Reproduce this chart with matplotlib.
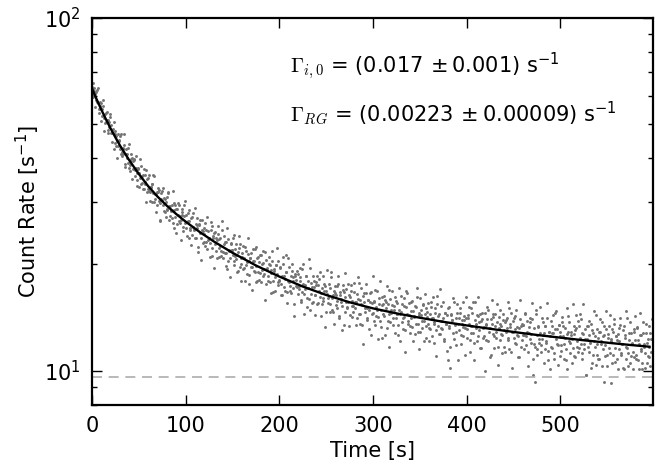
"""
Count rate decay with a two-component fit, log scale.
"""

import numpy as np
import matplotlib
matplotlib.use("Agg")
import matplotlib.pyplot as plt
from matplotlib.ticker import LogLocator, NullFormatter

# measured count rate, readings on whole seconds starting at t = 0 s
rate = [
    63.7, 59.6, 63.2, 60.7, 58.6, 62.3, 57.4, 55.0, 57.8, 55.6, 51.1, 55.2, 56.1, 52.1, 50.4, 53.6, 51.3, 47.0, 50.7, 53.2,
    47.1, 47.5, 48.5, 42.6, 46.8, 47.9, 43.4, 44.7, 43.4, 44.7, 46.2, 41.0, 41.6, 42.6, 43.6, 38.6, 41.0, 41.2, 38.8, 43.9,
    39.2, 36.8, 39.9, 40.0, 37.3, 39.7, 35.7, 37.4, 33.4, 37.4, 36.2, 35.1, 38.0, 34.0, 35.8, 32.7, 35.8, 33.9, 37.0, 32.1,
    35.2, 32.3, 30.2, 33.2, 33.9, 31.9, 35.5, 30.6, 31.6, 29.5, 32.1, 32.5, 29.8, 26.8, 30.7, 32.2, 29.5, 30.8, 28.1, 30.1,
    28.5, 31.9, 29.2, 27.5, 28.4, 29.5, 26.2, 29.9, 28.5, 27.3, 24.6, 28.7, 27.7, 29.5, 26.2, 26.7, 28.2, 24.9, 27.4, 30.3,
    25.3, 26.3, 28.0, 23.8, 26.5, 25.3, 27.1, 24.3, 27.9, 25.2, 23.7, 26.0, 25.3, 21.7, 26.0, 26.7, 23.8, 25.0, 23.0, 25.3,
    24.4, 26.2, 23.1, 22.1, 24.9, 23.7, 23.0, 26.4, 21.1, 24.0, 24.5, 22.8, 21.9, 23.4, 24.4, 21.0, 23.6, 22.5, 21.9, 25.0,
    20.9, 22.8, 23.1, 21.6, 19.4, 23.6, 21.9, 20.9, 23.0, 22.0, 21.3, 24.2, 19.9, 22.1, 20.7, 21.3, 19.1, 22.2, 22.9, 20.0,
    21.5, 19.4, 20.8, 22.4, 19.9, 18.8, 21.4, 20.4, 17.6, 20.9, 21.5, 19.7, 20.5, 19.1, 22.1, 19.8, 17.9, 21.0, 20.3, 18.9,
    21.2, 19.3, 18.5, 20.2, 19.4, 21.7, 17.6, 19.6, 18.6, 20.0, 17.8, 19.3, 20.4, 16.7, 19.4, 18.4, 19.9, 18.8, 17.8, 20.4,
    18.0, 19.5, 16.4, 18.6, 20.0, 17.3, 18.2, 19.0, 16.7, 20.8, 17.8, 16.8, 18.5, 19.2, 17.2, 17.9, 15.4, 18.6, 18.1, 17.3,
    18.8, 17.4, 18.0, 15.9, 19.4, 17.6, 16.5, 17.0, 18.6, 15.1, 17.9, 17.1, 16.0, 19.5, 16.5, 17.3, 15.6, 17.9, 16.4, 17.5,
    15.4, 17.5, 18.2, 16.2, 16.6, 15.4, 18.6, 15.8, 16.8, 17.4, 14.7, 16.5, 16.1, 17.6, 15.4, 19.0, 16.1, 14.7, 16.8, 16.6,
    16.4, 15.0, 15.8, 17.6, 14.3, 16.7, 16.0, 15.2, 16.9, 13.5, 16.2, 17.0, 15.0, 15.7, 16.4, 14.4, 17.5, 15.2, 15.8, 14.7,
    16.7, 15.0, 15.7, 14.1, 16.0, 17.7, 14.5, 15.4, 13.5, 16.3, 15.6, 15.0, 16.6, 14.1, 15.0, 15.9, 13.1, 15.6, 16.7, 14.5,
    14.6, 15.8, 13.5, 15.1, 16.8, 14.2, 15.4, 13.8, 14.9, 16.2, 12.4, 15.4, 14.3, 15.9, 15.0, 13.2, 15.4, 16.9, 13.7, 14.6,
    15.3, 13.5, 14.9, 16.2, 14.1, 14.5, 15.5, 12.6, 14.9, 14.5, 16.3, 13.7, 14.1, 15.2, 13.0, 16.8, 14.5, 13.8, 15.5, 13.4,
    14.1, 15.6, 13.3, 14.8, 14.3, 12.7, 15.1, 16.2, 13.6, 14.4, 12.9, 14.9, 13.8, 15.3, 12.1, 14.5, 15.0, 13.4, 14.2, 15.5,
    13.2, 14.5, 15.7, 12.5, 14.1, 13.7, 15.0, 13.0, 16.3, 13.4, 14.5, 12.7, 13.8, 15.2, 13.1, 14.1, 12.1, 14.6, 13.6, 14.4,
    10.7, 13.4, 10.2, 14.4, 13.9, 12.8, 15.6, 13.5, 14.1, 11.8, 14.6, 13.6, 13.0, 15.0, 12.6, 13.9, 13.3, 14.3, 11.1, 14.1,
    13.1, 14.4, 13.6, 12.2, 15.0, 12.8, 13.4, 15.6, 12.0, 13.9, 13.2, 14.4, 12.5, 13.7, 14.5, 11.6, 14.0, 13.2, 12.5, 14.6,
    13.5, 12.2, 14.0, 14.9, 12.9, 13.2, 11.1, 13.6, 14.2, 12.5, 14.5, 12.9, 13.7, 11.7, 13.2, 14.9, 12.2, 13.4, 12.6, 13.9,
    11.7, 13.7, 12.9, 14.1, 12.2, 15.0, 13.3, 11.3, 12.9, 13.8, 12.4, 13.1, 14.3, 11.9, 13.3, 12.5, 10.9, 14.0, 13.4, 12.2,
    13.5, 12.6, 14.5, 11.8, 12.9, 11.3, 13.3, 13.7, 12.3, 12.7, 14.0, 9.7, 11.9, 9.3, 14.5, 11.5, 13.3, 12.3, 12.8, 11.8,
    12.3, 13.7, 12.8, 11.5, 13.4, 12.0, 14.1, 10.7, 12.9, 12.5, 11.7, 13.4, 12.8, 11.2, 14.6, 12.3, 13.1, 11.8, 13.5, 11.0,
    12.9, 11.4, 13.7, 12.5, 11.9, 13.2, 10.7, 12.7, 14.3, 12.1, 11.2, 12.9, 12.3, 11.6, 13.4, 12.7, 10.9, 13.2, 11.7, 13.8,
    11.6, 12.4, 14.0, 11.2, 12.7, 11.9, 13.1, 9.7, 12.3, 13.4, 11.3, 12.6, 12.0, 13.6, 10.5, 12.8, 12.1, 11.7, 14.4, 11.1,
    12.4, 10.8, 12.9, 12.1, 13.7, 11.5, 9.3, 12.6, 11.8, 13.1, 11.1, 12.4, 13.4, 11.2, 12.1, 10.5, 12.9, 14.0, 11.6, 12.5,
    10.8, 12.7, 12.1, 11.5, 13.5, 11.1, 11.9, 13.0, 10.1, 12.4, 11.7, 14.1, 11.2, 12.2, 10.5, 12.8, 11.9, 11.3, 13.1, 10.9,
    12.2, 11.1, 13.3, 10.7, 11.9, 12.6, 11.4, 10.1, 12.8, 11.9, 11.2, 13.6, 10.5, 12.3, 11.7, 10.9, 12.8, 11.3,
]
time_s = np.arange(len(rate))

# readings on the half seconds, t = 0.5 s onwards
rate_half = [
    60.4, 65.4, 62.0, 55.9, 61.7, 57.7, 63.1, 53.7, 56.3, 57.2, 52.8, 58.3, 47.8, 53.3, 50.7, 54.2, 48.0, 51.2, 48.9, 52.5,
    49.6, 44.5, 47.1, 50.8, 44.3, 46.2, 40.0, 46.9, 45.0, 42.4, 46.7, 40.5, 42.8, 41.2, 46.8, 37.7, 42.6, 40.1, 42.8, 37.6,
    38.3, 41.1, 35.0, 39.2, 39.6, 37.0, 40.6, 34.6, 36.4, 37.3, 33.1, 39.7, 33.9, 35.5, 32.7, 37.2, 34.3, 30.0, 35.0, 32.7,
    35.8, 32.0, 33.1, 30.1, 33.9, 35.8, 30.0, 31.6, 28.2, 32.0, 33.0, 30.2, 26.6, 31.8, 30.4, 33.0, 28.4, 30.7, 27.3, 31.1,
    28.8, 32.0, 26.8, 29.3, 28.5, 27.1, 32.2, 25.4, 29.4, 28.8, 26.0, 29.8, 26.6, 27.4, 23.5, 28.7, 27.6, 25.6, 29.5, 26.2,
    27.7, 24.1, 26.6, 28.5, 25.0, 22.7, 27.3, 25.6, 25.0, 28.9, 23.8, 25.8, 27.0, 22.4, 25.9, 24.5, 20.6, 26.8, 24.9, 23.2,
    22.6, 25.0, 27.2, 23.4, 23.8, 21.0, 25.0, 25.7, 22.3, 23.7, 19.6, 24.7, 23.7, 20.9, 25.7, 22.3, 23.7, 21.1, 26.6, 21.7,
    24.1, 21.5, 19.8, 23.1, 25.4, 20.4, 22.0, 18.4, 22.8, 22.0, 23.8, 20.5, 21.1, 22.8, 19.0, 21.7, 24.0, 19.7, 20.8, 17.9,
    21.0, 22.5, 19.5, 17.9, 21.8, 20.3, 23.8, 18.7, 20.9, 19.7, 16.9, 22.1, 20.4, 19.0, 22.4, 17.8, 20.8, 19.0, 18.1, 21.2,
    17.8, 20.0, 21.8, 18.8, 15.9, 20.6, 19.3, 17.9, 21.0, 19.9, 16.6, 18.9, 21.9, 17.9, 19.2, 16.8, 19.9, 22.2, 17.5, 18.1,
    19.7, 17.6, 16.4, 21.0, 18.6, 16.8, 19.0, 21.3, 15.5, 18.0, 19.7, 17.4, 16.6, 20.0, 18.4, 14.3, 18.8, 17.4, 19.2, 16.5,
    17.0, 19.5, 18.4, 15.6, 16.7, 20.1, 14.5, 17.5, 18.5, 16.1, 17.1, 20.7, 14.9, 17.7, 15.5, 18.6, 17.3, 16.4, 14.4, 17.8,
    18.5, 15.5, 16.8, 19.0, 14.3, 17.1, 16.1, 17.6, 13.3, 16.8, 19.3, 15.5, 16.3, 14.7, 17.1, 18.4, 14.9, 16.4, 13.6, 17.4,
    15.3, 17.4, 18.5, 14.1, 16.4, 15.7, 13.0, 17.5, 16.7, 14.7, 18.9, 15.7, 15.1, 17.6, 13.4, 16.2, 16.8, 14.2, 15.2, 17.7,
    15.6, 13.5, 16.5, 18.4, 14.5, 15.9, 13.6, 17.1, 15.3, 11.9, 16.6, 14.7, 17.6, 13.9, 15.9, 14.9, 16.6, 12.6, 15.5, 18.6,
    13.8, 15.7, 16.9, 14.3, 14.9, 12.3, 16.1, 18.0, 13.3, 15.3, 14.5, 16.3, 12.6, 15.6, 17.4, 13.8, 14.5, 11.7, 16.0, 14.9,
    16.8, 14.1, 15.2, 12.8, 15.8, 14.5, 13.5, 17.2, 12.1, 14.7, 15.4, 13.1, 16.1, 14.2, 11.3, 15.1, 16.6, 13.6, 14.4, 12.8,
    14.8, 15.8, 12.1, 14.2, 15.2, 13.6, 17.1, 12.9, 14.6, 11.5, 16.1, 14.4, 13.2, 15.4, 13.8, 16.5, 12.4, 14.7, 13.6, 12.1,
    13.1, 15.1, 14.1, 16.2, 12.0, 13.6, 14.6, 11.0, 15.4, 14.3, 12.7, 17.0, 13.2, 13.8, 15.6, 12.3, 14.6, 13.6, 11.4, 15.0,
    15.1, 13.2, 11.7, 14.5, 13.9, 16.1, 12.3, 13.6, 12.9, 15.4, 10.7, 14.1, 14.6, 11.9, 13.6, 15.6, 12.5, 13.9, 13.2, 16.2,
    12.4, 14.1, 15.1, 11.3, 13.4, 14.6, 12.8, 10.7, 15.6, 13.6, 12.1, 14.3, 16.2, 13.0, 11.6, 13.8, 14.6, 12.4, 13.3, 10.0,
    13.6, 15.1, 12.1, 13.2, 10.9, 14.0, 15.9, 12.7, 14.5, 11.6, 13.4, 12.4, 15.4, 10.4, 14.2, 13.6, 12.7, 11.2, 14.5, 13.0,
    11.3, 13.9, 13.2, 15.6, 12.4, 11.5, 13.6, 14.6, 10.2, 12.9, 14.1, 12.0, 14.9, 12.6, 10.9, 13.2, 15.9, 11.7, 13.6, 12.6,
    13.5, 11.5, 14.6, 12.5, 13.8, 10.3, 12.8, 14.1, 12.0, 15.5, 10.8, 13.2, 11.7, 14.9, 12.6, 11.1, 13.4, 12.0, 15.1, 11.3,
    14.1, 12.6, 10.5, 13.4, 12.1, 15.5, 11.4, 12.9, 10.1, 13.8, 12.8, 11.6, 14.4, 10.8, 13.1, 14.8, 11.9, 10.4, 13.5, 12.5,
    11.8, 14.2, 13.4, 10.8, 12.4, 11.5, 15.0, 10.1, 12.9, 13.7, 12.0, 12.6, 10.5, 15.4, 11.0, 13.0, 14.4, 12.1, 11.3, 13.4,
    14.5, 11.9, 10.8, 12.8, 15.4, 11.5, 12.3, 9.7, 13.4, 11.7, 13.8, 12.1, 10.2, 13.0, 11.1, 14.8, 12.5, 10.4, 13.1, 11.9,
    10.8, 12.9, 14.0, 11.9, 10.3, 12.5, 13.4, 11.0, 14.8, 10.3, 12.7, 11.6, 14.4, 9.2, 12.3, 13.1, 11.1, 13.6, 10.6, 12.5,
    12.2, 10.1, 13.2, 14.1, 11.2, 11.9, 10.2, 13.4, 12.6, 10.8, 14.8, 11.6, 10.3, 12.8, 13.7, 11.0, 12.0, 10.1, 12.9, 14.3,
    10.8, 13.2, 12.2, 10.1, 14.6, 11.5, 12.6, 10.5, 13.7, 11.7, 10.2, 12.8, 12.0, 11.0, 13.4, 10.3, 12.3, 14.0,
]
time_half_s = np.arange(len(rate_half)) + 0.5

# fitted curve, sampled off the figure
fit_t = [0, 5, 10, 15, 20, 25, 30, 40, 50, 60, 70, 80, 90, 100, 115, 130, 150, 175,
         200, 225, 250, 275, 300, 325, 350, 375, 400, 425, 450, 475, 500, 525, 550,
         575, 595]
fit_y = [63.0, 58.65, 54.82, 51.45, 48.45, 45.77, 43.36, 39.35, 36.07, 33.30, 31.11,
         29.30, 27.76, 26.43, 24.70, 23.23, 21.57, 19.86, 18.47, 17.31, 16.38, 15.62,
         15.01, 14.53, 14.12, 13.75, 13.43, 13.14, 12.87, 12.62, 12.40, 12.19, 12.00,
         11.82, 11.69]

background = 9.6

# (symbol, rest of the line)
gamma_lines = [
    (r"$\Gamma_{i,0}$", r" = (0.017$\,\pm$0.001) s$^{-1}$"),
    (r"$\Gamma_{RG}$", r" = (0.00223$\,\pm$0.00009) s$^{-1}$"),
]
gamma_y = [0.858, 0.731]

plt.rcParams.update({
    "font.family": "DejaVu Sans",
    "font.size": 15,
    "xtick.direction": "in",
    "ytick.direction": "in",
    "xtick.top": True,
    "ytick.right": True,
})

fig = plt.figure(figsize=(6.72, 4.68), dpi=100)
ax = fig.add_axes([0.137, 0.135, 0.835, 0.827])
for side in ax.spines.values():
    side.set_linewidth(1.6)

ax.plot(time_s, rate, "o", ms=2.1, color="0.45", mec="none")
ax.plot(time_half_s, rate_half, "o", ms=2.1, color="0.45", mec="none")
ax.plot(fit_t, fit_y, color="black", lw=1.7)
ax.axhline(background, color="0.68", lw=1.2, ls=(0, (6, 4)))

ax.set_yscale("log")
ax.yaxis.set_minor_locator(LogLocator(base=10, subs=np.arange(2, 10)))
ax.yaxis.set_minor_formatter(NullFormatter())
ax.set_xlim(0, 599)
ax.set_ylim(8, 100)
ax.tick_params(which="major", length=7, width=1, labelsize=15, pad=8)
ax.tick_params(which="minor", length=3.5, width=1)
ax.set_xlabel("Time [s]", fontsize=15, labelpad=4)
ax.set_ylabel(r"Count Rate [s$^{-1}$]", fontsize=15, labelpad=2)

fig.canvas.draw()
for (sym, rest), y in zip(gamma_lines, gamma_y):
    t1 = ax.text(0.353, y, sym, transform=ax.transAxes, va="baseline",
                 fontsize=15, math_fontfamily="cm")
    bb = t1.get_window_extent(renderer=fig.canvas.get_renderer())
    x_end = ax.transAxes.inverted().transform((bb.x1, bb.y0))[0]
    ax.text(x_end, y, rest, transform=ax.transAxes, va="baseline", fontsize=15)

fig.savefig("out.png", dpi=100)
